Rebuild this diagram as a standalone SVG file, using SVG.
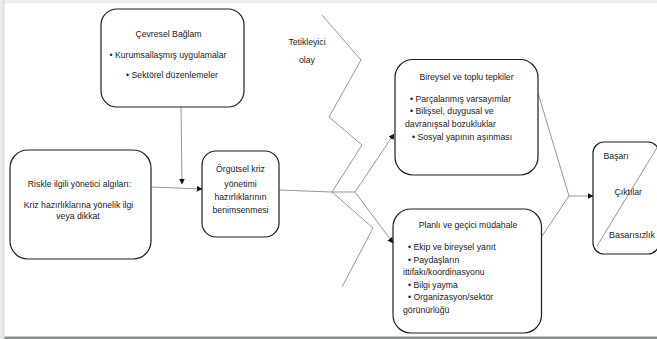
<svg xmlns="http://www.w3.org/2000/svg" width="657" height="339" viewBox="0 0 657 339">
  <defs>
    <style>
      .box { fill: #ffffff; stroke: #1e1e1e; stroke-width: 1.2; }
      .lbl { font-family: "Liberation Sans", Arial, sans-serif; font-size: 8.7px; fill: #1a1a1a; }
      .mid { text-anchor: middle; }
      .wire { fill: none; stroke: #8a8a8a; stroke-width: 0.9; }
    </style>
    <marker id="tip" viewBox="0 0 10 10" refX="9" refY="5" markerWidth="6" markerHeight="6" orient="auto" markerUnits="userSpaceOnUse">
      <path d="M0,0 L10,5 L0,10 Z" fill="#111111"/>
    </marker>
    <linearGradient id="edgeL" x1="0" y1="0" x2="1" y2="0">
      <stop offset="0" stop-color="#f2f2f2"/>
      <stop offset="1" stop-color="#dadada"/>
    </linearGradient>
  </defs>

  <!-- page frame -->
  <rect x="0" y="0" width="657" height="339" fill="#ffffff"/>
  <rect x="0" y="0" width="657" height="3.5" fill="#eeeeee"/>
  <rect x="0" y="0" width="4.5" height="339" fill="url(#edgeL)"/>
  <rect x="4.5" y="336.5" width="652.5" height="2.5" fill="#8c9191"/>

  <!-- connectors -->
  <g id="connectors">
    <!-- trigger zigzag -->
    <polyline class="wire" points="322,15 361,60 329,117 362,145 332,192 373,228 342,287"/>
    <line class="wire" x1="181" y1="107" x2="182" y2="184" marker-end="url(#tip)"/>
    <line class="wire" x1="151" y1="187" x2="202" y2="189" marker-end="url(#tip)"/>
    <polyline class="wire" points="279,190 332,192 355,192"/>
    <line class="wire" x1="355" y1="192" x2="394" y2="134" marker-end="url(#tip)"/>
    <line class="wire" x1="355" y1="192" x2="393" y2="243" marker-end="url(#tip)"/>
    <polyline class="wire" points="538,93 569,196 542,236"/>
    <line class="wire" x1="569" y1="196" x2="593" y2="196" marker-end="url(#tip)"/>
  </g>

  <g id="cevresel">
    <rect class="box" x="101" y="9" width="143" height="98" rx="16"/>
    <text class="lbl mid" x="168.5" y="37">Çevresel Bağlam</text>
    <text class="lbl mid" x="168" y="58">• Kurumsallaşmış uygulamalar</text>
    <text class="lbl mid" x="172" y="78">• Sektörel düzenlemeler</text>
  </g>

  <g id="tetikleyici">
    <text class="lbl mid" x="307" y="45">Tetikleyici</text>
    <text class="lbl mid" x="307" y="63">olay</text>
  </g>

  <g id="riskle">
    <rect class="box" x="10" y="150" width="141" height="109" rx="18"/>
    <text class="lbl mid" x="79.5" y="187">Riskle ilgili yönetici algıları:</text>
    <text class="lbl mid" x="78.5" y="208">Kriz hazırlıklarına yönelik ilgi</text>
    <text class="lbl mid" x="78" y="219">veya dikkat</text>
  </g>

  <g id="orgutsel">
    <rect class="box" x="202" y="151" width="77" height="86" rx="14"/>
    <text class="lbl mid" x="240.5" y="172">Örgütsel kriz</text>
    <text class="lbl mid" x="240.5" y="187">yönetimi</text>
    <text class="lbl mid" x="240.5" y="200">hazırlıklarının</text>
    <text class="lbl mid" x="240.5" y="213">benimsenmesi</text>
  </g>

  <g id="bireysel">
    <rect class="box" x="395" y="59.5" width="143" height="115.5" rx="18"/>
    <text class="lbl mid" x="466.5" y="80">Bireysel ve toplu tepkiler</text>
    <text class="lbl" x="410" y="101.5">• Parçalanmış varsayımlar</text>
    <text class="lbl" x="410" y="113.5">• Bilişsel, duygusal ve</text>
    <text class="lbl" x="405" y="126.5">davranışsal bozukluklar</text>
    <text class="lbl" x="412" y="140">• Sosyal yapının aşınması</text>
  </g>

  <g id="planli">
    <rect class="box" x="393" y="209" width="148.5" height="124" rx="18"/>
    <text class="lbl mid" x="468" y="228">Planlı ve geçici müdahale</text>
    <text class="lbl" x="408" y="250">• Ekip ve bireysel yanıt</text>
    <text class="lbl" x="408" y="263">• Paydaşların</text>
    <text class="lbl" x="403" y="275">ittifakı/koordinasyonu</text>
    <text class="lbl" x="408" y="288">• Bilgi yayma</text>
    <text class="lbl" x="408" y="300">• Organizasyon/sektör</text>
    <text class="lbl" x="403" y="313">görünürlüğü</text>
  </g>

  <g id="ciktilar">
    <rect class="box" x="593" y="142" width="66" height="112" rx="11"/>
    <line x1="658" y1="146" x2="597" y2="246" stroke="#8a8a8a" stroke-width="0.9"/>
    <text class="lbl" x="603.5" y="159">Başarı</text>
    <text class="lbl" x="614.5" y="195">Çıktılar</text>
    <text class="lbl" x="609" y="238" textLength="46" lengthAdjust="spacingAndGlyphs">Basarısızlık</text>
  </g>
</svg>
